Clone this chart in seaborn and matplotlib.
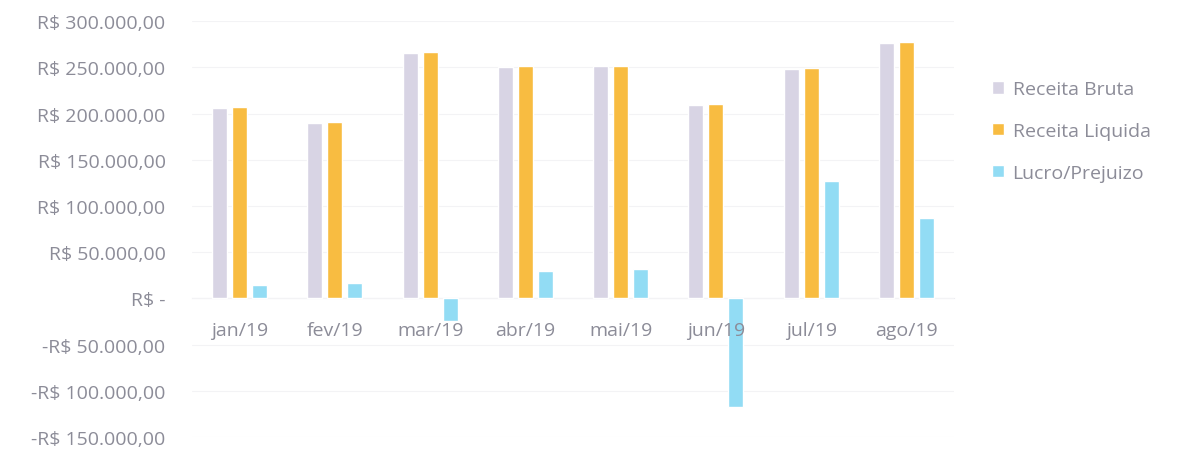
import numpy as np
import pandas as pd
import matplotlib
matplotlib.use("Agg")
import matplotlib.pyplot as plt
import matplotlib.ticker as mticker
import seaborn as sns

# data
MONTHS = ["jan/19", "fev/19", "mar/19", "abr/19", "mai/19", "jun/19", "jul/19", "ago/19"]
receita_bruta   = [206000, 189500, 266000, 250300, 251000, 209600, 248500, 276700]
receita_liquida = [207500, 190800, 267000, 251000, 251400, 210300, 249200, 277400]
lucro_prejuizo  = [14000, 16600, -24000, 29500, 32100, -117200, 127000, 86600]

SERIES = ["Receita Bruta", "Receita Liquida", "Lucro/Prejuizo"]
COLORS = ["#d8d4e4", "#f8bc41", "#92dcf4"]
Y_TICKS = [-150000, -100000, -50000, 0, 50000, 100000, 150000, 200000, 250000, 300000]

TEXT_COL = "#8c8c98"
FS = 14

df = pd.DataFrame({
    "mes": MONTHS * 3,
    "serie": np.repeat(SERIES, len(MONTHS)),
    "valor": receita_bruta + receita_liquida + lucro_prejuizo,
})

sns.set_theme(style="white")
plt.rcParams["font.family"] = ["Open Sans", "DejaVu Sans"]

fig = plt.figure(figsize=(11.8, 4.52), dpi=100)
ax = fig.add_axes([0.1627, 0.031, 0.6458, 0.920])

sns.barplot(data=df, x="mes", y="valor", hue="serie",
            order=MONTHS, hue_order=SERIES, palette=COLORS,
            width=0.63, gap=0.25, saturation=1, ax=ax,
            legend=True, errorbar=None)


def brl(v, pos=None):
    if v == 0:
        return "R$ -"
    s = f"{abs(v):,.2f}".replace(",", "X").replace(".", ",").replace("X", ".")
    return ("-R$ " if v < 0 else "R$ ") + s


ax.set_ylim(-150000, 300000)
ax.set_xlim(-0.5, len(MONTHS) - 0.5)
ax.set_yticks(Y_TICKS)
ax.yaxis.set_major_formatter(mticker.FuncFormatter(brl))
ax.yaxis.grid(True, color="#f3f3f5", linewidth=0.8)
ax.set_axisbelow(True)
ax.xaxis.set_zorder(5)   # month labels sit on top of the bars, as in Excel

for side in ["top", "right", "left"]:
    ax.spines[side].set_visible(False)
ax.spines["bottom"].set_position(("data", 0))
ax.spines["bottom"].set_color("#ececf0")
ax.spines["bottom"].set_linewidth(0.8)
ax.spines["bottom"].set_zorder(0.5)

ax.tick_params(axis="y", length=0, labelsize=FS, labelcolor=TEXT_COL, pad=19)
ax.tick_params(axis="x", length=0, labelsize=FS, labelcolor=TEXT_COL, pad=16.5)
ax.set_xlabel("")
ax.set_ylabel("")

handles, labels = ax.get_legend_handles_labels()
ax.get_legend().remove()
leg = ax.legend(handles, labels, loc="upper left", bbox_to_anchor=(1.027, 0.90),
                frameon=False, fontsize=FS, labelcolor=TEXT_COL,
                handlelength=0.6, handleheight=0.6, handletextpad=0.45,
                labelspacing=1.22)

fig.savefig("out.png", dpi=100, facecolor="white")
